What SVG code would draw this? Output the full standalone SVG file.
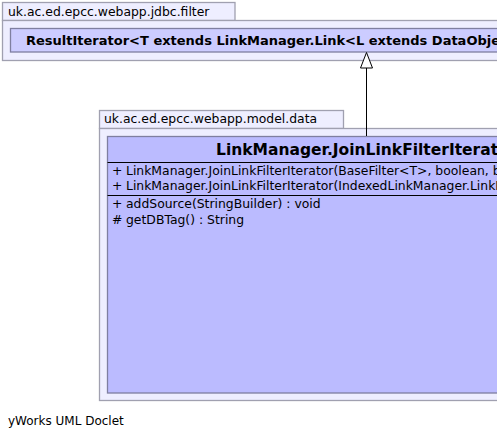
<svg xmlns="http://www.w3.org/2000/svg" width="497" height="439" viewBox="0 0 497 439">
<style>
.pkg{fill:#eeeeff;stroke:#a0a0b0;stroke-width:1.3}
.cls{stroke:#7f7fa0;stroke-width:1.3}
.t{font-family:"DejaVu Sans",sans-serif;fill:#000}
.pl{font-size:12.4px}
.m{font-size:12.4px}
.b{font-weight:bold}
.div{stroke:#000;stroke-width:1}
</style>
<rect width="497" height="439" fill="#fff"/>
<g id="pkg-filter">
<rect class="pkg" x="2.5" y="2.5" width="232.5" height="18"/>
<rect class="pkg" x="2.5" y="20.5" width="520" height="40"/>
<text class="t pl" x="8" y="16">uk.ac.ed.epcc.webapp.jdbc.filter</text>
</g>
<g id="ResultIterator">
<rect class="cls" x="10.5" y="28.5" width="520" height="23.5" fill="#ccccff"/>
<text class="t b" font-size="13" x="26" y="45">ResultIterator&lt;T extends LinkManager.Link&lt;L extends DataObject, R extends DataObject&gt;&gt;</text>
</g>
<g id="pkg-data">
<rect class="pkg" x="99.5" y="110.5" width="244" height="18"/>
<rect class="pkg" x="99.5" y="128.5" width="420" height="272"/>
<text class="t pl" x="104" y="123">uk.ac.ed.epcc.webapp.model.data</text>
</g>
<g id="JoinLinkFilterIterator">
<rect class="cls" x="107.5" y="136.5" width="420" height="256.5" fill="#bbbbff"/>
<text class="t b" font-size="15.5" x="216" y="155">LinkManager.JoinLinkFilterIterator</text>
<line class="div" x1="107.5" y1="162.5" x2="520" y2="162.5"/>
<text class="t m" x="112" y="175">+</text>
<text class="t m" x="126" y="175">LinkManager.JoinLinkFilterIterator(BaseFilter&lt;T&gt;, boolean, boolean)</text>
<text class="t m" x="112" y="190">+</text>
<text class="t m" x="126" y="190">LinkManager.JoinLinkFilterIterator(IndexedLinkManager.LinkFilter)</text>
<line class="div" x1="107.5" y1="195.5" x2="520" y2="195.5"/>
<text class="t m" x="112" y="208">+</text>
<text class="t m" x="126" y="208">addSource(StringBuilder) : void</text>
<text class="t m" x="112" y="224">#</text>
<text class="t m" x="126" y="224">getDBTag() : String</text>
</g>
<g id="connectors">
<line x1="366.5" y1="68" x2="366.5" y2="136" stroke="#000" stroke-width="1"/>
<polygon points="366.5,52.5 360.5,68 372.5,68" fill="#fff" stroke="#000" stroke-width="1"/>
</g>
<text class="t" font-size="12" x="8" y="425">yWorks UML Doclet</text>
</svg>
